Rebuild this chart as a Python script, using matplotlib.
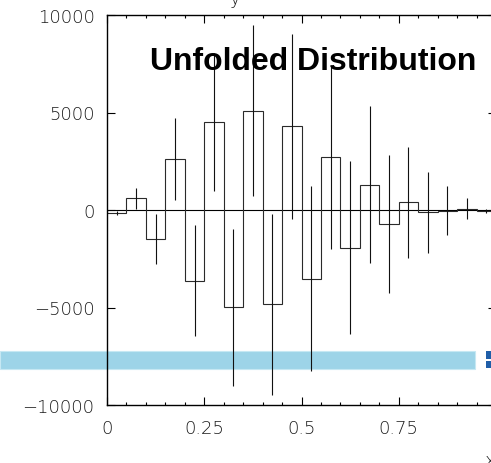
import numpy as np
import matplotlib
matplotlib.use("Agg")
import matplotlib.pyplot as plt
from matplotlib.patches import Rectangle
from matplotlib.ticker import MultipleLocator

# Unfolded spectrum: 20 bins on [0, 1]
bin_edges = np.linspace(0.0, 1.0, 21)
bin_values = [-140, 600, -1480, 2600, -3630, 4510, -4990, 5100, -4840, 4290,
              -3520, 2700, -1930, 1290, -720, 390, -120, -30, 75, -30]
bin_errors = [110, 540, 1265, 2095, 2855, 3540, 4035, 4400, 4650, 4760,
              4740, 4720, 4430, 4030, 3520, 2860, 2080, 1260, 530, 100]

x_ticks = [0, 0.25, 0.5, 0.75, 1.0]
x_tick_labels = ["0", "0.25", "0.5", "0.75", ""]
y_ticks = [-10000, -5000, 0, 5000, 10000]
y_tick_labels = ["\u221210000", "\u22125000", "0", "5000", "10000"]

W, H = 491, 464
fig = plt.figure(figsize=(W / 100, H / 100), dpi=100)
fig.patch.set_facecolor("white")


def px_rect(x0, y0, x1, y1):
    """Figure-fraction rectangle from pixel corners (origin top-left)."""
    return (x0 / W, 1 - y1 / H, (x1 - x0) / W, (y1 - y0) / H)


# legend strip behind the frame
bx, by, bw, bh = px_rect(0, 352, 475, 370)
fig.patches.append(Rectangle((bx, by), bw, bh, transform=fig.transFigure,
                             facecolor="#9dd4e8", edgecolor="#c6e8f3",
                             linewidth=0.8, zorder=-5))
for y0, y1 in [(351.7, 360.0), (362.0, 369.3)]:
    rx, ry, rw, rh = px_rect(485.7, y0, 492, y1)
    fig.patches.append(Rectangle((rx, ry), rw, rh, transform=fig.transFigure,
                                 facecolor="#1f5ea8", edgecolor="none",
                                 zorder=-5))

ax = fig.add_axes(px_rect(107, 16, 496, 406))
ax.set_facecolor("none")

centers = 0.5 * (bin_edges[:-1] + bin_edges[1:])
ax.axhline(0, color="black", lw=0.8, zorder=1)
ax.stairs(bin_values, bin_edges, baseline=0, color="#2a2a2a", lw=0.8, zorder=2)
ax.errorbar(centers, bin_values, yerr=bin_errors, fmt="none",
            ecolor="#111111", elinewidth=0.8, capsize=0, zorder=3)

ax.set_xlim(0, 1)
ax.set_ylim(-10000, 10000)

ax.set_xticks(x_ticks)
ax.set_xticklabels(x_tick_labels)
ax.set_yticks(y_ticks)
ax.set_yticklabels(y_tick_labels)
ax.xaxis.set_minor_locator(MultipleLocator(0.05))

for s in ax.spines.values():
    s.set_linewidth(1.0)
    s.set_color("black")

ax.tick_params(axis="both", which="major", direction="in", length=5.8,
               width=0.8, top=True, right=True, color="black")
ax.tick_params(axis="x", which="minor", direction="in", length=2.3,
               width=0.8, top=True, bottom=True)
ax.tick_params(axis="x", which="major", pad=10)
ax.tick_params(axis="y", which="major", pad=9)
for lab in ax.get_xticklabels() + ax.get_yticklabels():
    lab.set_fontfamily("DejaVu Sans")
    lab.set_fontweight("light")
    lab.set_fontsize(13)
    lab.set_color("#1a1a1a")

fig.text(150 / W, 1 - 70 / H, "Unfolded Distribution",
         family="Liberation Sans", weight="bold", size=23,
         ha="left", va="baseline", color="black")

# axis titles sitting at the figure edges
fig.text(229 / W, 1 - 4 / H, "y", family="DejaVu Sans", weight="light",
         size=13, ha="left", va="baseline", color="#1a1a1a")
fig.text(485 / W, 1 - 452 / H, "x", family="DejaVu Sans", weight="light",
         size=13, ha="left", va="top", color="#1a1a1a")

fig.savefig("out.png", dpi=100)
